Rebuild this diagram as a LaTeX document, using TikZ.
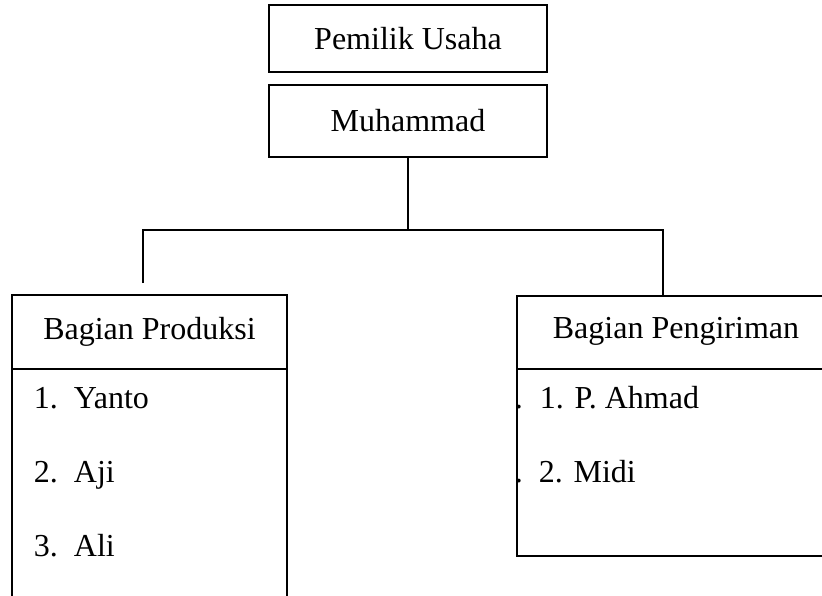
\documentclass[tikz,border=0pt]{standalone}
\usepackage{fontspec}
\setmainfont{Liberation Serif}
\begin{document}
\begin{tikzpicture}[x=1pt, y=-1pt, line width=1.8pt,
    box/.style={shape=rectangle, draw, inner sep=0pt, outer sep=0pt, font=\fontsize{32}{38}\selectfont},
    item/.style={anchor=base west, inner sep=0pt, font=\fontsize{32}{38}\selectfont}]%
  \clip (0,0) rectangle (822,596);
  \node [box, minimum width=278pt, minimum height=67pt] (owner) at (408,38.5) {Pemilik Usaha};
  \node [box, minimum width=278pt, minimum height=72pt] (muhammad) at (408,121) {Muhammad};
  \node [box, minimum width=275pt, minimum height=74pt] (produksi) at (149.5,332) {Bagian Produksi};
  \node [box, minimum width=275pt, minimum height=260pt, anchor=north] (produksiList) at (produksi.south) {};
  \node [box, minimum width=345pt, minimum height=73pt, anchor=north west] (pengiriman) at (517,296) {};
  \node [item] (pengirimanTitle) at (552,338) {Bagian Pengiriman};
  \node [box, minimum width=345pt, minimum height=187pt, anchor=north] (pengirimanList) at (pengiriman.south) {};
  % anggota
  \node [item] (yanto) at (33,408) {1.\enskip Yanto};
  \node [item] (aji) at (33,482) {2.\enskip Aji};
  \node [item] (ali) at (33,556) {3.\enskip Ali};
  \node [item] (dotA) at (514,408) {.};
  \node [item] (ahmad) at (539,408) {1. P. Ahmad};
  \node [item] (dotB) at (514,482) {.};
  \node [item] (midi) at (538,482) {2. Midi};
  \coordinate (split) at (408,230);
  \coordinate (leftdrop) at (143,283);
  \coordinate (rightdrop) at (663,296);
  \draw (muhammad.south) -- (split);
  \draw (leftdrop) |- (split) -| (rightdrop);
\end{tikzpicture}
\end{document}
